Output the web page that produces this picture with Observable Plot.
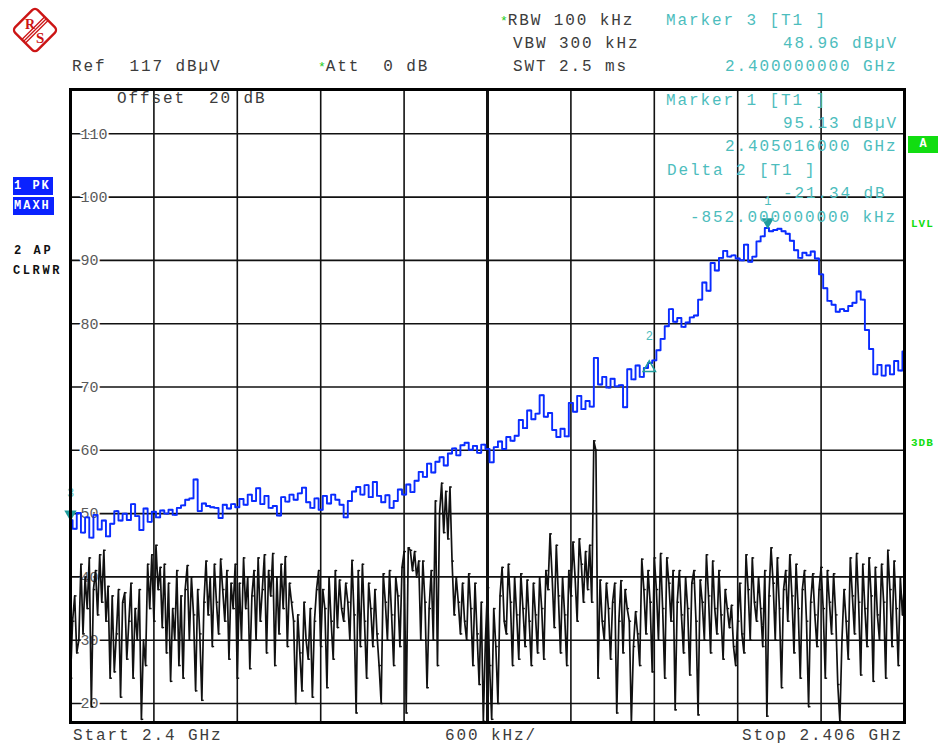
<!DOCTYPE html>
<html>
<head>
<meta charset="utf-8">
<script src="https://cdn.jsdelivr.net/npm/d3@7"></script>
<script src="https://cdn.jsdelivr.net/npm/@observablehq/plot@0.6"></script>
<style>
  html, body { margin: 0; padding: 0; background: #fff; overflow: hidden; }
  #wrap { position: relative; width: 938px; height: 744px; }
  #chart { position: absolute; left: 0; top: 0; }
  .t { position: absolute; font-family: "Liberation Mono", monospace; font-size: 16px; letter-spacing: 1.9px;
       line-height: 12px; white-space: pre; transform: translateY(-50%); color: #3c3c3c; }
  .teal { color: #4dbdbd; }
  .star { color: #22cc22; font-size: 13px; letter-spacing: 0; }
  .side { position: absolute; font-family: "Liberation Mono", monospace; font-weight: bold; font-size: 12px;
          letter-spacing: 2.6px; line-height: 12px; white-space: pre; transform: translateY(-50%); color: #111; }
  .box { position: absolute; background: #0a22ff; color: #fff; font-family: "Liberation Mono", monospace;
         font-weight: bold; font-size: 12px; letter-spacing: 2px; white-space: pre; line-height: 18px; padding-left: 1px; overflow: hidden; }
  .grn { position: absolute; font-family: "Liberation Mono", monospace; font-weight: bold; font-size: 11px;
         letter-spacing: 1px; color: #11dd11; transform: translateY(-50%); white-space: pre; }
</style>
</head>
<body>
<div id="wrap">
  <div id="chart"></div>

  <svg style="position:absolute;left:10px;top:5px" width="50" height="50" viewBox="0 0 50 50">
    <g transform="rotate(45 25 25)">
      <rect x="9" y="9" width="32" height="32" rx="4" fill="none" stroke="#cc1515" stroke-width="2.4"/>
      <line x1="22.5" y1="9" x2="22.5" y2="41" stroke="#cc1515" stroke-width="1.3"/>
      <line x1="25" y1="9" x2="25" y2="41" stroke="#cc1515" stroke-width="1.3"/>
      <line x1="27.5" y1="9" x2="27.5" y2="41" stroke="#cc1515" stroke-width="1.3"/>
    </g>
    <text x="15" y="24" font-family="Liberation Serif" font-weight="bold" font-size="14" fill="#cc1515">R</text>
    <text x="26" y="38" font-family="Liberation Serif" font-weight="bold" font-size="15" fill="#cc1515">S</text>
  </svg>

  <!-- header -->
  <div class="t" style="left:500px;top:21px"><span class="star">*</span>RBW 100 kHz</div>
  <div class="t" style="left:513px;top:44px">VBW 300 kHz</div>
  <div class="t" style="left:513px;top:67px">SWT 2.5 ms</div>
  <div class="t" style="left:72px;top:67px">Ref  117 dBµV</div>
  <div class="t" style="left:318px;top:67px"><span class="star">*</span>Att  0 dB</div>
  <div class="t teal" style="left:666px;top:21px">Marker 3 [T1 ]</div>
  <div class="t teal" style="left:783px;top:44px">48.96 dBµV</div>
  <div class="t teal" style="left:725px;top:67px">2.400000000 GHz</div>

  <!-- in-plot texts -->
  <div class="t" style="left:117px;top:99px">Offset  20 dB</div>
  <div class="t teal" style="left:666px;top:101px">Marker 1 [T1 ]</div>
  <div class="t teal" style="left:783px;top:124px">95.13 dBµV</div>
  <div class="t teal" style="left:725px;top:147px">2.405016000 GHz</div>
  <div class="t teal" style="left:667px;top:171px">Delta 2 [T1 ]</div>
  <div class="t teal" style="left:783px;top:194px">-21.34 dB</div>
  <div class="t teal" style="left:690px;top:218px">-852.000000000 kHz</div>

  <!-- footer -->
  <div class="t" style="left:73px;top:736px">Start 2.4 GHz</div>
  <div class="t" style="left:445px;top:736px">600 kHz/</div>
  <div class="t" style="left:742px;top:736px">Stop 2.406 GHz</div>

  <!-- left side trace info -->
  <div class="box" style="left:13px;top:177px;width:39px;height:18px">1 PK</div>
  <div class="box" style="left:13px;top:197px;width:40px;height:18px">MAXH</div>
  <div class="side" style="left:14px;top:251px">2 AP</div>
  <div class="side" style="left:13px;top:271px">CLRWR</div>

  <!-- right side -->
  <div style="position:absolute;left:908px;top:136px;width:30px;height:17px;background:#11dd11;color:#fff;font-family:'Liberation Mono',monospace;font-weight:bold;font-size:12px;line-height:17px;text-align:center">A</div>
  <div class="grn" style="left:911px;top:224px">LVL</div>
  <div class="grn" style="left:911px;top:443px">3DB</div>
</div>

<script>
// ---- data ----
const startGHz = 2.4;
const spanKHz = 6000;            // 600 kHz/div, 10 divisions
const refLevel = 117;            // dBµV, top of screen
const bottomLevel = 17;

// Trace 1 (PK, MAXH), dBµV, evenly spaced across the span
const trace1 = [
  48.96, 47.6, 50.1, 47.0, 49.4, 46.2, 49.8, 47.5, 48.9, 46.4,
  48.4, 50.4, 48.9, 50.0, 49.0, 51.5, 49.6, 47.4, 50.8, 48.7,
  50.3, 49.4, 50.5, 50.0, 50.6, 49.8, 50.9, 51.3, 52.2, 52.4,
  55.4, 50.4, 51.6, 51.2, 51.0, 50.9, 49.3, 51.4, 50.8, 51.5,
  51.0, 52.3, 51.4, 53.0, 52.0, 54.0, 51.5, 52.8, 50.9, 51.2,
  49.7, 52.6, 51.9, 53.0, 52.2, 53.2, 54.1, 51.8, 50.9, 52.4,
  50.6, 52.8, 51.6, 53.0, 52.2, 51.4, 49.4, 52.0, 53.5, 54.2,
  53.0, 54.5, 52.6, 55.0, 52.8, 51.8, 52.9, 50.9, 52.0, 53.8,
  53.0, 54.6, 53.4, 55.2, 56.6, 55.8, 57.9, 56.5, 58.2, 58.9,
  57.6, 59.5, 60.3, 59.2, 60.8, 61.2, 60.1, 60.7, 59.6, 60.9,
  60.2, 58.1, 60.5, 61.4, 60.2, 62.1, 61.5, 62.3, 64.8, 63.5,
  66.3, 64.9, 65.8, 68.7, 65.3, 65.9, 63.2, 62.1, 63.4, 62.2,
  67.5, 66.1, 68.6, 66.5, 67.8, 66.9, 74.6, 70.4, 71.6, 69.9,
  71.3, 70.1, 70.3, 66.8, 72.8, 71.2, 73.4, 71.6, 73.0, 73.79,
  74.2, 75.8, 77.6, 79.6, 82.3, 80.3, 80.9, 79.5, 80.2, 81.0,
  81.3, 83.8, 86.5, 85.2, 89.6, 88.4, 90.4, 91.5, 90.6, 90.8,
  90.3, 90.0, 92.5, 89.8, 90.6, 93.0, 93.8, 95.13, 94.6, 94.8,
  95.0, 94.6, 94.2, 93.1, 91.6, 90.4, 91.2, 90.8, 91.4, 90.3,
  87.8, 85.6, 83.6, 83.0, 81.9, 82.3, 82.0, 82.8, 83.3, 85.1,
  83.8, 79.0, 76.0, 72.0, 73.5, 71.8, 73.4, 72.0, 74.1, 72.6, 75.6
];

// Trace 2 (AP, CLRWR), dBµV, evenly spaced across the span
const trace2 = [
  24, 33, 37, 28, 30, 42, 31, 40, 35, 43, 19.5, 38, 41, 34, 43.5, 36, 44.2, 33, 38.5, 24,
  37, 25, 31, 38, 21, 36, 37.5, 27, 33, 39, 24, 35, 30, 38, 17.5, 30, 26, 42, 35, 43.5,
  33, 45, 38, 41.5, 32, 42, 28, 39, 23.5, 35, 30, 41, 26, 37, 24, 38, 41.8, 30, 40, 34,
  22, 38, 31, 20.5, 36, 42.5, 34, 40, 29, 42, 36, 31, 42.8, 38, 33, 41, 27, 39, 35, 42,
  24, 39, 30, 43, 35, 40, 25.5, 37, 41, 30, 43, 33, 38, 43.5, 28, 41, 37, 43.7, 26, 40,
  31, 42, 35, 43.2, 29, 39, 36, 33, 20, 34, 28, 22, 36, 30, 27, 35, 21, 33, 38, 41,
  29, 38, 35, 22.5, 40, 33, 27, 41, 32, 39.5, 35, 33, 39, 36, 30, 42.6, 34, 18.5, 41, 29,
  42, 33, 24, 39, 35, 29, 38, 31, 26, 20, 40.5, 36, 30, 41, 34, 26, 40, 37, 29, 41.5,
  44, 18.5, 44.6, 44.2, 41, 44, 40, 42.5, 30, 42.5, 36, 22.5, 35, 41, 30, 52, 26, 50, 54.8, 47,
  53.5, 46, 54.2, 42.5, 34, 40, 36, 31, 39, 33, 30, 40.5, 35, 26, 39, 31, 23, 36, 17.2, 30,
  38.3, 26, 17.5, 35, 29, 20, 37, 41.5, 33, 31, 42, 36, 26, 40, 34, 27, 40.5, 35, 29, 39.5,
  33, 26, 39, 34, 28, 40, 35, 27, 41, 38, 46.8, 40, 32, 45, 37, 28, 40, 34, 26, 41,
  37, 45.5, 40, 33, 46, 42, 36, 44, 38, 45, 36, 61.5, 60, 24, 39.5, 33, 30, 39, 35, 27,
  36, 39, 18.5, 33, 39.4, 28, 38, 35, 33, 17, 29, 34.5, 31, 26, 42.8, 38, 31, 41, 36, 25,
  43, 38, 30, 43.7, 35, 24, 43, 39, 33, 41, 19, 36, 41, 34, 28, 40, 35, 24.5, 39, 41,
  33, 18.2, 39.5, 36, 30, 43.5, 37, 28, 42.5, 35, 31, 41, 34, 27, 38, 35, 32, 35.5, 29, 26,
  33, 39, 31, 28, 43.5, 38, 30, 43, 36, 33, 40, 35, 29, 41, 18, 37, 44.6, 39, 30, 43,
  35, 22.5, 38, 41, 33, 43.5, 37, 28, 42, 35, 24, 38, 41, 33, 19.5, 36, 40.5, 34, 29, 38,
  41.5, 35, 24, 41, 36, 31, 40.5, 34, 23, 17.2, 30, 38, 33, 27, 43, 37, 31, 43.7, 36, 24.5,
  42, 35, 29, 43, 37, 23.5, 41.5, 34, 30, 42, 36, 24, 44.2, 38, 29, 42.5, 35, 26, 40, 34, 39
];

const yTicks = [20, 30, 40, 50, 60, 70, 80, 90, 100, 110];
const xDivKHz = [600, 1200, 1800, 2400, 3600, 4200, 4800, 5400];
const centerKHz = 3000;

const markerIds = ["1", "2", "3"];
const markerKHz = [5016, 4164, 0];
const markerLevel = [95.13, 73.79, 48.96];

// ---- build tables ----
const t1 = trace1.map((v, i) => ({f: i * spanKHz / (trace1.length - 1), v}));
const t2 = trace2.map((v, i) => ({f: i * spanKHz / (trace2.length - 1), v}));
const markers = markerIds.map((id, i) => ({id, f: markerKHz[i], v: markerLevel[i]}));
const filledMarkers = markers.filter(m => m.id !== "2");
const deltaMarkers = markers.filter(m => m.id === "2");

const mono = "Liberation Mono, monospace";
const teal = "#4dbdbd";
const tealDark = "#1f9c9c";
const blue = "#0a2cff";
const tickKHz = 17; // short pixel-tick drawn at each sweep point (display style)

const chart = Plot.plot({
  width: 938,
  height: 744,
  marginLeft: 70,
  marginRight: 34,
  marginTop: 89,
  marginBottom: 22,
  x: {domain: [0, spanKHz], axis: null},
  y: {domain: [bottomLevel, refLevel], axis: null},
  style: {background: "transparent"},
  marks: [
    Plot.ruleX(xDivKHz, {stroke: "#111", strokeWidth: 1.6}),
    Plot.ruleY(yTicks, {stroke: "#111", strokeWidth: 1.6}),
    Plot.ruleX([centerKHz], {stroke: "#111", strokeWidth: 3}),
    Plot.text(yTicks, {
      x: 0, y: d => d, text: d => String(d), textAnchor: "start", dx: 10,
      fill: "#5a5a5a", stroke: "white", strokeWidth: 4, fontFamily: mono, fontSize: 15
    }),
    Plot.line(t2, {x: "f", y: "v", stroke: "#111", strokeWidth: 1.7, curve: "linear"}),
    Plot.ruleY(t2, {y: "v", x1: "f", x2: d => Math.min(spanKHz, d.f + tickKHz), stroke: "#111", strokeWidth: 1.4}),
    Plot.line(t1, {x: "f", y: "v", stroke: blue, strokeWidth: 1.9, curve: "step"}),
    Plot.ruleY(t1, {y: "v", x1: "f", x2: d => Math.min(spanKHz, d.f + tickKHz), stroke: blue, strokeWidth: 1.5}),
    Plot.dot(filledMarkers, {x: "f", y: "v", symbol: "triangle", rotate: 180, r: 4.6, fill: tealDark, stroke: "none", dy: -6}),
    Plot.dot(deltaMarkers, {x: "f", y: "v", symbol: "triangle", r: 4.6, fill: "none", stroke: tealDark, strokeWidth: 1.5, dy: 5}),
    Plot.text(markers, {x: "f", y: "v", text: "id", dy: -27, fill: teal, fontFamily: mono, fontSize: 12}),
    Plot.frame({stroke: "#000", strokeWidth: 3})
  ]
});
document.getElementById("chart").appendChild(chart);
</script>
</body>
</html>
